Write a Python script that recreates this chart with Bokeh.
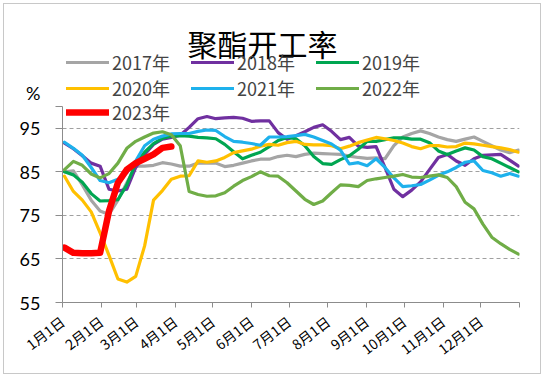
import math
from bokeh.plotting import figure
from bokeh.models import (FixedTicker, Legend, LegendItem, Range1d, Label)
from bokeh.embed import file_html
from bokeh.resources import INLINE

# ---------------- data ----------------
years = ["2017年", "2018年", "2019年", "2020年", "2021年", "2022年", "2023年"]
month_labels = ["1月1日", "2月1日", "3月1日", "4月1日", "5月1日", "6月1日",
                "7月1日", "8月1日", "9月1日", "10月1日", "11月1日", "12月1日"]
month_start_days = [0, 31, 59, 90, 120, 151, 181, 212, 243, 273, 304, 334, 365]
y_ticks = [55, 65, 75, 85, 95]
unit_label = "%"
title_text = "聚酯开工率"

s2017 = [85.0, 85.2, 82.0, 78.5, 76.0, 75.2, 78.5, 82.5, 86.3, 86.3, 86.5, 87.1, 86.8,
         86.3, 86.3, 87.0, 87.0, 87.0, 86.2, 86.5, 87.0, 87.5, 87.9, 87.9, 88.5, 88.8,
         88.5, 89.0, 89.3, 89.2, 89.1, 89.0, 88.6, 88.3, 88.1, 88.2, 88.0, 91.0, 93.0,
         93.8, 94.4, 93.8, 93.0, 92.4, 92.0, 92.5, 93.0, 92.0, 91.0, 90.0, 89.4, 90.0]
s2018 = [91.6, 90.3, 88.7, 87.0, 86.3, 81.0, 80.6, 81.0, 86.0, 89.0, 91.3, 92.5, 92.9,
         93.4, 95.2, 97.2, 97.7, 97.2, 97.4, 97.5, 97.3, 96.6, 96.7, 96.7, 94.0, 92.5,
         93.3, 94.2, 95.2, 95.8, 94.3, 92.4, 92.9, 90.9, 90.6, 90.8, 86.0, 81.0, 79.3,
         80.8, 82.7, 85.5, 88.3, 89.0, 87.5, 86.5, 88.0, 88.8, 88.9, 89.0, 87.7, 86.3]
s2019 = [85.0, 84.3, 82.6, 80.0, 78.3, 78.4, 78.6, 82.0, 87.0, 89.5, 91.5, 92.7, 93.2,
         93.3, 93.2, 92.9, 92.8, 92.6, 91.3, 89.6, 88.0, 88.8, 89.5, 90.8, 92.2, 92.9,
         92.6, 91.0, 88.5, 86.9, 86.7, 87.8, 88.7, 90.2, 92.0, 92.0, 92.4, 92.8, 92.8,
         92.5, 92.5, 91.7, 89.8, 89.0, 89.8, 90.5, 90.0, 88.5, 88.0, 87.0, 86.0, 85.0]
s2020 = [84.0, 80.5, 78.5, 75.8, 71.0, 65.8, 60.4, 59.7, 61.0, 68.0, 78.5, 80.7, 83.3,
         84.0, 84.1, 87.5, 87.2, 87.5, 88.3, 89.4, 89.8, 90.2, 90.9, 91.3, 91.1, 91.7,
         92.0, 91.3, 91.2, 91.2, 91.0, 90.3, 90.9, 91.7, 92.3, 92.9, 92.6, 92.2, 91.6,
         90.8, 90.3, 91.0, 91.0, 90.7, 90.8, 91.6, 91.4, 91.1, 90.8, 90.5, 90.1, 89.5]
s2021 = [91.8, 90.4, 88.8, 86.0, 83.0, 82.5, 83.3, 84.8, 87.5, 91.0, 92.5, 93.2, 93.7,
         93.8, 93.8, 94.3, 94.6, 94.5, 93.1, 92.0, 91.8, 91.5, 91.1, 93.0, 93.0, 93.1,
         93.3, 93.6, 93.0, 92.2, 91.4, 90.0, 86.8, 87.1, 86.4, 88.0, 86.0, 83.6, 81.6,
         81.8, 82.1, 83.1, 84.2, 85.0, 86.0, 87.2, 87.5, 85.3, 84.8, 84.0, 84.6, 84.0]
s2022 = [85.5, 87.4, 86.5, 84.5, 83.6, 84.6, 87.0, 90.4, 92.0, 93.0, 93.9, 94.2, 93.5,
         91.0, 80.5, 79.8, 79.4, 79.5, 80.2, 81.7, 83.0, 83.9, 85.0, 84.1, 84.0, 82.5,
         80.6, 78.7, 77.5, 78.3, 80.2, 82.0, 81.9, 81.6, 83.0, 83.4, 83.7, 84.0, 84.4,
         83.8, 83.7, 84.0, 84.3, 83.7, 81.6, 78.0, 76.5, 73.0, 70.0, 68.5, 67.2, 66.1]
s2023 = [67.6, 66.4, 66.3, 66.3, 66.4, 76.0, 82.5, 85.5, 87.0, 88.0, 89.0, 90.5, 90.8]

series = [s2017, s2018, s2019, s2020, s2021, s2022, s2023]
colors = ["#a5a5a5", "#7030a0", "#00a651", "#ffc000", "#1eb1ec", "#70ad47", "#ff0000"]
widths = [3.2, 3.2, 3.2, 3.2, 3.2, 3.2, 6.5]

# weekly positions along the year (days since Jan 1)
def week_days(n):
    return [1.6 + 7.11 * i for i in range(n)]

CJK = "Noto Sans CJK SC"
NUM = "Lato"

W, H = 538, 371
FL, FR, FB = 58, 515, 298        # frame edges in figure pixels (frame top = canvas top)
AXIS_TOP_PX = 102                # where value 100 sits
Y0, Y1 = 55, 100
px_per_unit = (FB - AXIS_TOP_PX) / (Y1 - Y0)
y_max = Y0 + FB / px_per_unit    # range extends to the top of the canvas

p = figure(width=W, height=H, x_range=Range1d(0, 365), y_range=Range1d(Y0, y_max),
           output_backend="svg", toolbar_location=None, title=None,
           min_border_left=FL, min_border_right=W - FR, min_border_top=0,
           min_border_bottom=H - FB)
p.outline_line_color = None
p.background_fill_color = "white"
p.border_fill_color = "white"
p.styles = {"border": "1px solid #c8c8c8", "box-sizing": "border-box",
            "margin-left": "3px", "margin-top": "3px"}

# y axis
p.yaxis.bounds = (Y0, Y1)
p.yaxis.ticker = FixedTicker(ticks=y_ticks + [Y1])
p.yaxis.major_label_overrides = {Y1: unit_label + "\n"}
p.yaxis.major_label_text_font = NUM
p.yaxis.major_label_text_font_size = "18px"
p.yaxis.major_label_text_color = "black"
p.yaxis.axis_line_color = "#8c8c8c"
p.yaxis.major_tick_line_color = "#8c8c8c"
p.yaxis.major_tick_out = 7
p.yaxis.major_tick_in = 0
p.yaxis.minor_tick_line_color = None
p.yaxis.major_label_standoff = 15

# x axis
p.xaxis.ticker = FixedTicker(ticks=month_start_days)
overrides = {d: lab for d, lab in zip(month_start_days, month_labels)}
overrides[365] = ""
p.xaxis.major_label_overrides = overrides
p.xaxis.major_label_orientation = 0.65
p.xaxis.major_label_text_font = CJK
p.xaxis.major_label_text_font_size = "14px"
p.xaxis.major_label_text_color = "black"
p.xaxis.major_label_standoff = 12
p.xaxis.axis_line_color = "#8c8c8c"
p.xaxis.major_tick_line_color = "#8c8c8c"
p.xaxis.major_tick_out = 5
p.xaxis.major_tick_in = 0
p.xaxis.minor_tick_line_color = None

p.xgrid.grid_line_color = None
p.ygrid.ticker = FixedTicker(ticks=y_ticks[1:])
p.ygrid.grid_line_color = "#a0a0a0"
p.ygrid.grid_line_dash = "4 3"
p.ygrid.grid_line_width = 1

items = []
for name, s, c, w in zip(years, series, colors, widths):
    r = p.line(week_days(len(s)), s, line_color=c, line_width=w,
               line_join="round", line_cap="round")
    items.append(LegendItem(label=name, renderers=[r]))

leg_style = dict(glyph_width=43, glyph_height=20, label_text_font=CJK,
                 label_text_font_size="18px", label_text_line_height=1.0,
                 label_standoff=3, label_height=20,
                 label_width=79, border_line_alpha=0, background_fill_alpha=0,
                 padding=0, margin=0, spacing=0)

# legend rows 1-2 (six items, three per row)
legend_a = Legend(items=items[:6], orientation="horizontal", ncols=3,
                  location=(4, FB - 97), **leg_style)
p.add_layout(legend_a, "center")
# legend row 3 (2023)
legend_b = Legend(items=items[6:], orientation="horizontal",
                  location=(4, FB - 121), **leg_style)
p.add_layout(legend_b, "center")

# title (screen units are relative to the frame's bottom-left corner)
p.add_layout(Label(x=258 - FL, y=FB - 38, x_units="screen", y_units="screen",
                   text=title_text, text_font=CJK, text_font_size="30px",
                   text_align="center", text_baseline="middle", text_color="black"))

open("out.html", "w").write(file_html(p, INLINE))
